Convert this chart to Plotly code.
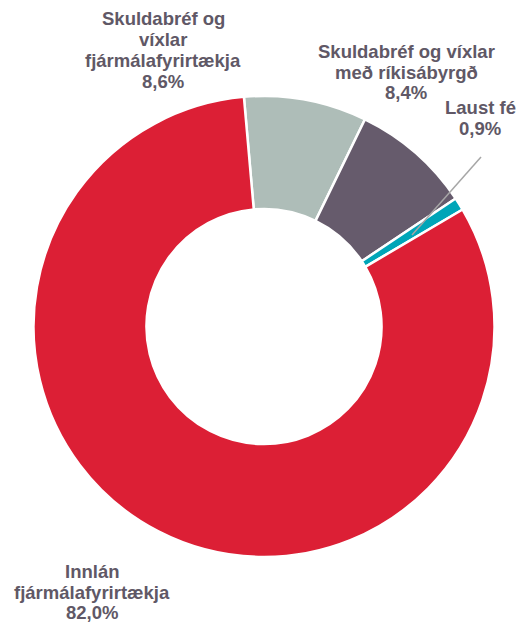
import plotly.graph_objects as go

categories = ["Skuldabréf og víxlar fjármálafyrirtækja",
              "Skuldabréf og víxlar með ríkisábyrgð",
              "Laust fé",
              "Innlán fjármálafyrirtækja"]
values = [8.6, 8.4, 0.9, 82.0]
label_lines = [["Skuldabréf og", "víxlar", "fjármálafyrirtækja", "8,6%"],
               ["Skuldabréf og víxlar", "með ríkisábyrgð", "8,4%"],
               ["Laust fé", "0,9%"],
               ["Innlán", "fjármálafyrirtækja", "82,0%"]]
colors = ["#AEBDB8", "#665B6C", "#00A5B8", "#DC1F35"]

W, H = 516, 625
# label placement: center x (px) and first-line baseline (px), line step (px)
label_pos = [(163, 24.5), (406, 57), (480, 113), (92, 577)]
line_step = 20.7
FS = 18.5
TXT = "#605866"

fig = go.Figure(go.Pie(
    labels=categories, values=values, sort=False, direction="clockwise",
    rotation=-5, hole=0.51, textinfo="none", hoverinfo="label+percent",
    marker=dict(colors=colors, line=dict(color="white", width=2.5)),
    domain=dict(x=[33 / W, 495 / W], y=[1 - 557 / H, 1 - 96 / H]),
    showlegend=False,
))

anns = []
for lines, (cx, by) in zip(label_lines, label_pos):
    for i, t in enumerate(lines):
        base = by + i * line_step
        anns.append(dict(
            text="<b>" + t + "</b>", x=cx / W, y=1 - (base - 0.3 * FS) / H,
            xref="paper", yref="paper", xanchor="center", yanchor="middle",
            showarrow=False, font=dict(family="Liberation Sans, Arial", size=FS, color=TXT),
        ))

fig.update_layout(
    width=W, height=H, autosize=False,
    margin=dict(l=0, r=0, t=0, b=0),
    paper_bgcolor="white", plot_bgcolor="white",
    annotations=anns,
    shapes=[dict(type="line", xref="paper", yref="paper",
                 x0=412 / W, y0=1 - 235 / H, x1=481 / W, y1=1 - 157 / H,
                 line=dict(color="#A6A6A6", width=1.5))],
)

fig.write_html("out.html", config={"displayModeBar": False},
               post_script="document.body.style.margin='0';document.body.style.overflow='hidden';")
